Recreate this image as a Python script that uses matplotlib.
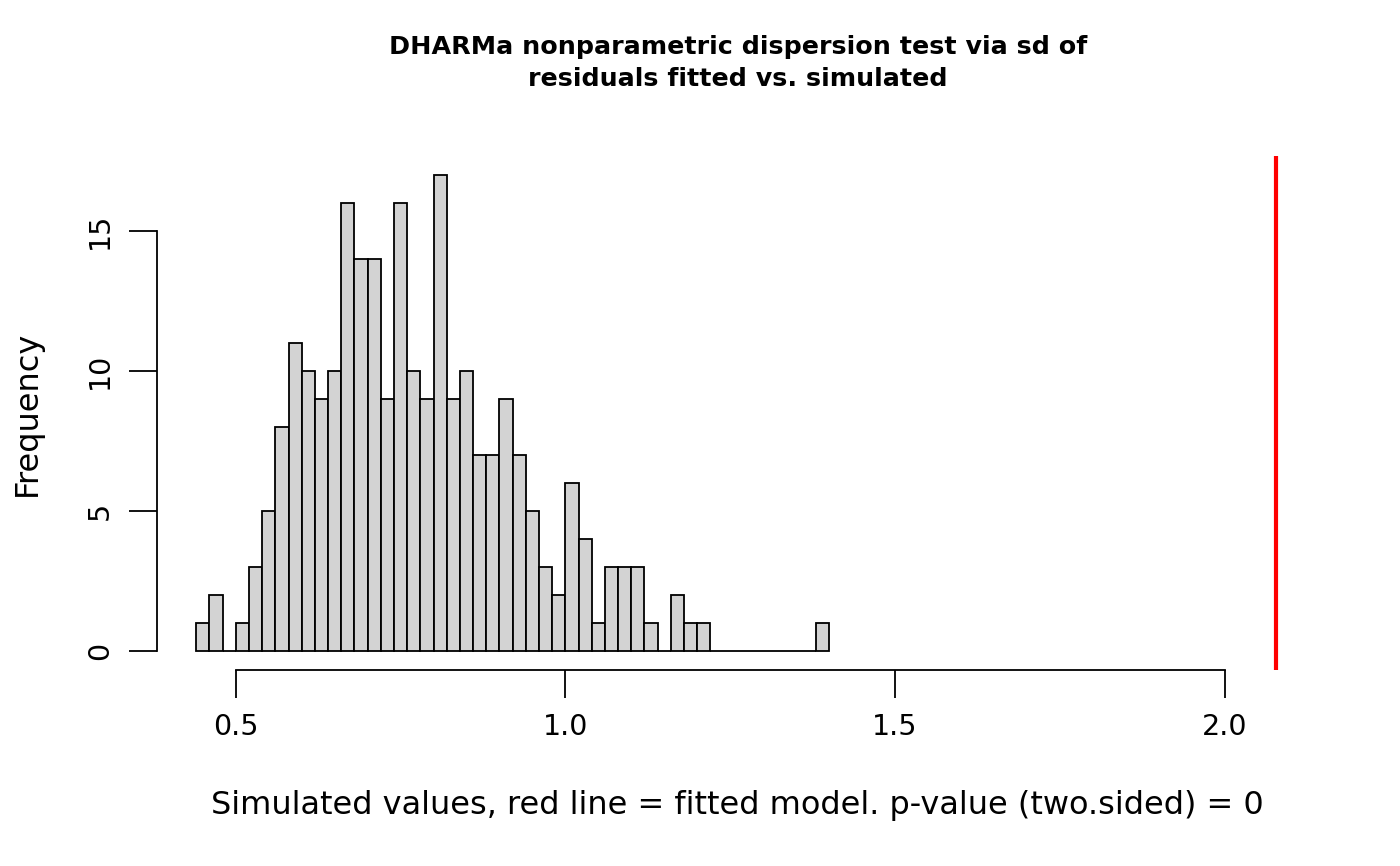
import numpy as np
import matplotlib
matplotlib.use("Agg")
import matplotlib.pyplot as plt

# histogram of simulated sd values (bin width 0.02, starting at 0.44)
bin_starts = [0.44, 0.46, 0.48, 0.50, 0.52, 0.54, 0.56, 0.58, 0.60, 0.62,
              0.64, 0.66, 0.68, 0.70, 0.72, 0.74, 0.76, 0.78, 0.80, 0.82,
              0.84, 0.86, 0.88, 0.90, 0.92, 0.94, 0.96, 0.98, 1.00, 1.02,
              1.04, 1.06, 1.08, 1.10, 1.12, 1.14, 1.16, 1.18, 1.20, 1.22,
              1.24, 1.26, 1.28, 1.30, 1.32, 1.34, 1.36, 1.38]
counts = [1, 2, 0, 1, 3, 5, 8, 11, 10, 9,
          10, 16, 14, 14, 9, 16, 10, 9, 17, 9,
          10, 7, 7, 9, 7, 5, 3, 2, 6, 4,
          1, 3, 3, 3, 1, 0, 2, 1, 1, 0,
          0, 0, 0, 0, 0, 0, 0, 1]
bin_width = 0.02
observed = 2.078  # fitted model value (red line)

x_ticks = [0.5, 1.0, 1.5, 2.0]
x_ticklabels = ["0.5", "1.0", "1.5", "2.0"]
y_ticks = [0, 5, 10, 15]

fig = plt.figure(figsize=(14, 8.66), dpi=100)
ax = fig.add_axes([0.112, 0.226, 0.830, 0.594])

ax.bar(bin_starts, counts, width=bin_width, align="edge",
       color="#d3d3d3", edgecolor="black", linewidth=1.3)
ax.axvline(observed, color="red", linewidth=3)

ax.set_xlim(0.3801, 2.143)
ax.set_ylim(-0.68, 17.68)

for s in ["top", "right"]:
    ax.spines[s].set_visible(False)
ax.spines["left"].set_bounds(0, 15)
ax.spines["bottom"].set_bounds(0.5, 2.0)
ax.spines["left"].set_linewidth(1.3)
ax.spines["bottom"].set_linewidth(1.3)

ax.set_xticks(x_ticks)
ax.set_xticklabels(x_ticklabels)
ax.set_yticks(y_ticks)
ax.set_yticklabels([str(v) for v in y_ticks], rotation=90, va="center")
ax.tick_params(axis="both", length=20, width=1.3, labelsize=20.5, pad=11)

ax.set_ylabel("Frequency", fontsize=23, labelpad=31)
ax.set_xlabel("Simulated values, red line = fitted model. p-value (two.sided) = 0",
              fontsize=23, labelpad=35)
ax.set_title("DHARMa nonparametric dispersion test via sd of\nresiduals fitted vs. simulated",
             fontsize=18.3, fontweight="bold", pad=50, linespacing=1.45)

fig.savefig("out.png", dpi=100)
